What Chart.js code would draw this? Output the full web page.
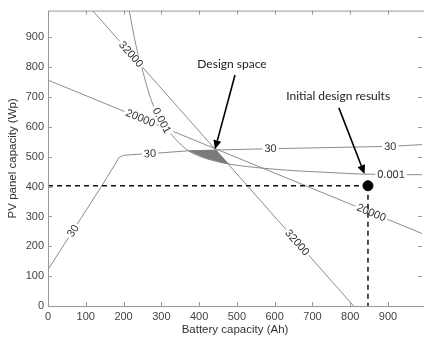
<!DOCTYPE html>
<html>
<head>
<meta charset="utf-8">
<script src="https://cdn.jsdelivr.net/npm/chart.js@4.4.1/dist/chart.umd.min.js"></script>
<style>
  html, body { margin: 0; padding: 0; overflow: hidden; background: #fff; }
  #wrap { width: 428px; height: 339px; }
</style>
</head>
<body>
<div id="wrap"><canvas id="chart" width="428" height="339"></canvas></div>
<script>
// contour lines (battery Ah, PV Wp)
const line32000X = [118, 809];
const line32000Y = [990, 0];
const line20000X = [0, 990];
const line20000Y = [757, 243];
const line001X = [215, 233, 249, 275, 305, 337, 372, 420, 478, 560, 634, 735, 835, 990];
const line001Y = [990, 873, 795, 684, 612, 560, 520, 494, 476, 463, 455, 448, 442, 440];
const line30X = [0, 66, 141, 175, 188, 200, 233, 272, 372, 482, 586, 743, 906, 990];
const line30Y = [122, 252, 400, 470, 498, 505, 508, 511, 520, 524, 527, 531, 535, 541];

// shaded design space
const designX = [372, 445, 478, 420, 372];
const designY = [520, 522, 476, 494, 520];

// initial design result
const resultX = [847];
const resultY = [403];

const xTicks = [0, 100, 200, 300, 400, 500, 600, 700, 800, 900];
const yTicks = [0, 100, 200, 300, 400, 500, 600, 700, 800, 900];

// contour labels: text, line, x, y
const contourLabels = [
    ['32000', 'c32000', 220, 844],
    ['32000', 'c32000', 660, 213],
    ['20000', 'c20000', 245, 630],
    ['20000', 'c20000', 856, 313],
    ['0.001', 'c001', 301, 622],
    ['0.001', 'c001', 908, 441],
    ['30', 'c30', 66, 252],
    ['30', 'c30', 270, 511],
    ['30', 'c30', 589, 528],
    ['30', 'c30', 906, 535]
];

// annotations: text, text pos, arrow start, arrow tip
const notes = [
    { text: 'Design space', at: [487, 810], from: [495, 774], to: [442, 525] },
    { text: 'Initial design results', at: [768, 704], from: [770, 664], to: [838, 442] }
];

const toPts = (xs, ys) => xs.map((x, i) => ({ x: x, y: ys[i] }));

function contour(id, xs, ys, smooth) {
    return {
        id: id,
        data: toPts(xs, ys),
        showLine: true,
        borderColor: '#8c8c8c',
        borderWidth: 1,
        pointRadius: 0,
        cubicInterpolationMode: smooth ? 'monotone' : 'default',
        order: 10
    };
}

const datasets = [
    contour('c32000', line32000X, line32000Y, false),
    contour('c20000', line20000X, line20000Y, false),
    contour('c001', line001X, line001Y, true),
    contour('c30', line30X, line30Y, false),
    {
        id: 'design',
        data: toPts(designX, designY),
        showLine: true,
        borderColor: '#777',
        borderWidth: 0.5,
        backgroundColor: '#7a7a7a',
        fill: 'shape',
        pointRadius: 0,
        order: 5
    },
    {
        id: 'hdash',
        data: [{ x: 0, y: resultY[0] }, { x: resultX[0], y: resultY[0] }],
        showLine: true,
        borderColor: '#111',
        borderWidth: 1.5,
        borderDash: [5, 4],
        pointRadius: 0,
        order: 2
    },
    {
        id: 'vdash',
        data: [{ x: resultX[0], y: resultY[0] }, { x: resultX[0], y: 0 }],
        showLine: true,
        borderColor: '#111',
        borderWidth: 1.5,
        borderDash: [5, 4],
        pointRadius: 0,
        order: 2
    },
    {
        id: 'dot',
        data: toPts(resultX, resultY),
        pointRadius: 5,
        pointBackgroundColor: '#000',
        pointBorderColor: '#000',
        order: 1
    }
];

// labels sit on the lines, cut out of them like matlab clabel
const labelPlugin = {
    id: 'labels',
    afterDatasetDraw(chart, args) {
        if (args.meta._dataset.id !== 'design') return;
        const ctx = chart.ctx;
        const xs = chart.scales.x, ys = chart.scales.y;
        ctx.save();
        ctx.font = '11px "Liberation Sans", Arial, sans-serif';
        ctx.textAlign = 'center';
        ctx.textBaseline = 'middle';
        contourLabels.forEach(([text, lineId, vx, vy]) => {
            const ds = chart.data.datasets.find(d => d.id === lineId);
            const px = xs.getPixelForValue(vx), py = ys.getPixelForValue(vy);
            // nearest segment gives the angle
            let best = null, bestD = Infinity;
            for (let i = 0; i < ds.data.length - 1; i++) {
                const ax = xs.getPixelForValue(ds.data[i].x), ay = ys.getPixelForValue(ds.data[i].y);
                const bx = xs.getPixelForValue(ds.data[i + 1].x), by = ys.getPixelForValue(ds.data[i + 1].y);
                const dx = bx - ax, dy = by - ay;
                let t = ((px - ax) * dx + (py - ay) * dy) / (dx * dx + dy * dy);
                t = Math.max(0, Math.min(1, t));
                const d = Math.hypot(ax + t * dx - px, ay + t * dy - py);
                if (d < bestD) { bestD = d; best = Math.atan2(dy, dx); }
            }
            if (best > Math.PI / 2) best -= Math.PI;
            if (best < -Math.PI / 2) best += Math.PI;
            const w = ctx.measureText(text).width;
            ctx.save();
            ctx.translate(px, py);
            ctx.rotate(best);
            ctx.fillStyle = '#fff';
            ctx.fillRect(-w / 2 - 2, -5, w + 4, 10);
            ctx.fillStyle = '#333';
            ctx.fillText(text, 0, 0.5);
            ctx.restore();
        });
        ctx.restore();
    }
};

const framePlugin = {
    id: 'frame',
    afterDraw(chart) {
        const ctx = chart.ctx;
        const a = chart.chartArea;
        const xs = chart.scales.x, ys = chart.scales.y;
        ctx.save();
        // left, bottom, top spines and inward ticks (right spine falls outside the window)
        ctx.strokeStyle = '#999';
        ctx.lineWidth = 1;
        ctx.beginPath();
        ctx.moveTo(a.right + 2, a.top + 0.5); ctx.lineTo(a.left + 0.5, a.top + 0.5);
        ctx.lineTo(a.left + 0.5, a.bottom + 0.5); ctx.lineTo(a.right + 2, a.bottom + 0.5);
        xTicks.forEach(v => {
            const x = Math.round(xs.getPixelForValue(v)) + 0.5;
            ctx.moveTo(x, a.bottom); ctx.lineTo(x, a.bottom - 4);
            ctx.moveTo(x, a.top); ctx.lineTo(x, a.top + 4);
        });
        yTicks.forEach(v => {
            const y = Math.round(ys.getPixelForValue(v)) + 0.5;
            ctx.moveTo(a.left, y); ctx.lineTo(a.left + 4, y);
            ctx.moveTo(a.right, y); ctx.lineTo(a.right - 4, y);
        });
        ctx.stroke();

        // arrows and notes
        ctx.strokeStyle = '#000';
        ctx.fillStyle = '#000';
        ctx.lineWidth = 1.6;
        notes.forEach(n => {
            const x1 = xs.getPixelForValue(n.from[0]), y1 = ys.getPixelForValue(n.from[1]);
            const x2 = xs.getPixelForValue(n.to[0]), y2 = ys.getPixelForValue(n.to[1]);
            const ang = Math.atan2(y2 - y1, x2 - x1);
            const hl = 9, hw = 4;
            const bx = x2 - hl * Math.cos(ang), by = y2 - hl * Math.sin(ang);
            ctx.beginPath();
            ctx.moveTo(x1, y1); ctx.lineTo(bx, by);
            ctx.stroke();
            ctx.beginPath();
            ctx.moveTo(x2, y2);
            ctx.lineTo(bx + hw * Math.sin(ang), by - hw * Math.cos(ang));
            ctx.lineTo(bx - hw * Math.sin(ang), by + hw * Math.cos(ang));
            ctx.closePath();
            ctx.fill();

            ctx.font = '12px Lato, "Open Sans", sans-serif';
            ctx.fillStyle = '#222';
            ctx.textAlign = 'center';
            ctx.textBaseline = 'middle';
            ctx.fillText(n.text, xs.getPixelForValue(n.at[0]), ys.getPixelForValue(n.at[1]));
            ctx.fillStyle = '#000';
        });
        ctx.restore();
    }
};

const tickFont = { family: '"Liberation Sans", Arial, sans-serif', size: 11 };

new Chart(document.getElementById('chart'), {
    type: 'scatter',
    data: { datasets: datasets },
    options: {
        responsive: false,
        animation: false,
        layout: { padding: { top: 8, right: 1.6, left: 0, bottom: 0 } },
        plugins: {
            legend: { display: false },
            tooltip: { enabled: false }
        },
        scales: {
            x: {
                type: 'linear',
                min: 0,
                max: 990,
                afterBuildTicks: s => { s.ticks = xTicks.map(v => ({ value: v })); },
                afterFit: s => { s.height = 33; },
                grid: { display: false, drawTicks: false },
                border: { display: false },
                ticks: { font: tickFont, color: '#444', padding: 4, maxRotation: 0 },
                title: {
                    display: true,
                    text: 'Battery capacity (Ah)',
                    font: { family: '"Liberation Sans", Arial, sans-serif', size: 11.5 },
                    color: '#333',
                    padding: { top: 0, bottom: 2 }
                }
            },
            y: {
                type: 'linear',
                min: 0,
                max: 990,
                afterBuildTicks: s => { s.ticks = yTicks.map(v => ({ value: v })); },
                afterFit: s => { s.width = 48; },
                grid: { display: false, drawTicks: false },
                border: { display: false },
                ticks: { font: tickFont, color: '#444', padding: 4 },
                title: {
                    display: true,
                    text: 'PV panel capacity (Wp)',
                    font: { family: '"Liberation Sans", Arial, sans-serif', size: 11.5 },
                    color: '#333',
                    padding: { top: 6, bottom: 0 }
                }
            }
        }
    },
    plugins: [labelPlugin, framePlugin]
});
</script>
</body>
</html>
